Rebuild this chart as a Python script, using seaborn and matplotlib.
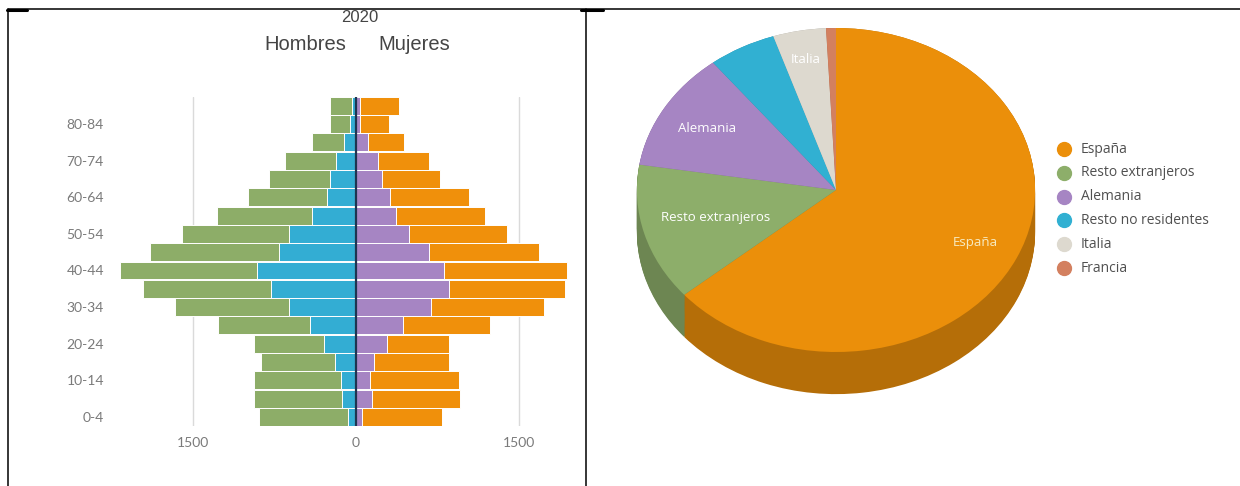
import numpy as np
import pandas as pd
import matplotlib
matplotlib.use("Agg")
import matplotlib.pyplot as plt
import seaborn as sns

# ---- Pirámide de población 2020 (grupos de edad de menor a mayor) ----
edades = ["0-4", "5-9", "10-14", "15-19", "20-24", "25-29", "30-34", "35-39",
          "40-44", "45-49", "50-54", "55-59", "60-64", "65-69", "70-74",
          "75-79", "80-84", "85+"]
hombres_total = [894, 939, 939, 869, 939, 1264, 1659, 1958, 2166, 1891,
                 1600, 1276, 988, 796, 652, 404, 236, 236]
hombres_parte = [73, 132, 138, 193, 291, 422, 612, 780, 912, 710,
                 618, 407, 269, 236, 184, 107, 55, 37]
mujeres_total = [790, 955, 942, 857, 857, 1230, 1723, 1922, 1937, 1677,
                 1386, 1184, 1040, 774, 667, 441, 306, 392]
mujeres_parte = [52, 144, 129, 162, 282, 428, 689, 857, 811, 667,
                 483, 367, 315, 239, 199, 107, 37, 37]
ticks_x = [-1500, 0, 1500]
ticks_x_txt = ["1500", "0", "1500"]

# ---- Procedencia (%) ----
paises = ["España", "Resto extranjeros", "Alemania", "Resto no residentes",
          "Italia", "Francia"]
porcentajes = [63.8, 13.7, 11.9, 5.5, 4.3, 0.8]

# colores
VERDE, AZUL, NARANJA, MORADO = "#8DAD68", "#33ADD3", "#F0900B", "#A685C3"
colores_pie = ["#EB8F0A", "#8DAE6A", "#A685C3", "#31B0D2", "#DDD9CF", "#D3805F"]
etiquetas_pie = {"España": (0.77, "#F7EBC2"), "Resto extranjeros": (0.63, "white"),
                 "Alemania": (0.75, "white"), "Italia": (0.82, "white")}

sns.set_theme(style="white")
plt.rcParams["font.family"] = ["Lato", "DejaVu Sans"]

W, H = 1240, 486
fig = plt.figure(figsize=(W / 100, H / 100), dpi=100)
fig.patch.set_facecolor("white")


def caja(x0, y0, x1, y1):
    """Rectángulo en píxeles (origen arriba-izquierda) -> fracción de figura."""
    return [x0 / W, 1 - y1 / H, (x1 - x0) / W, (y1 - y0) / H]


# ------------------------ pirámide ------------------------
ax = fig.add_axes(caja(115, 96.7, 580, 426))
df = pd.DataFrame({"edad": edades,
                   "h_tot": -np.array(hombres_total), "h_par": -np.array(hombres_parte),
                   "m_tot": np.array(mujeres_total), "m_par": np.array(mujeres_parte)})
orden = edades[::-1]
kw = dict(y="edad", order=orden, orient="h", width=0.98, edgecolor="white",
          linewidth=0.7, ax=ax, errorbar=None)
sns.barplot(data=df, x="h_tot", color=VERDE, saturation=1, **kw)
sns.barplot(data=df, x="h_par", color=AZUL, saturation=1, **kw)
sns.barplot(data=df, x="m_tot", color=NARANJA, saturation=1, **kw)
sns.barplot(data=df, x="m_par", color=MORADO, saturation=1, **kw)
ax.axvline(0, color="#1E3550", lw=1.6, zorder=5)
for xv in (-1500, 1500):
    ax.axvline(xv, color="#DADADA", lw=1.0, zorder=0)
ax.set_xlim(-2212, 2056)
ax.set_xticks(ticks_x)
ax.set_xticklabels(ticks_x_txt)
ax.set_yticks(range(len(orden)))
ax.set_yticklabels([e if edades.index(e) % 2 == 0 else "" for e in orden])
ax.tick_params(axis="both", length=0, labelsize=10, colors="#7A7A7A")
ax.tick_params(axis="y", pad=8)
ax.tick_params(axis="x", pad=8)
ax.set_xlabel("")
ax.set_ylabel("")
for s in ax.spines.values():
    s.set_visible(False)

# ------------------------ tarta 3D ------------------------
axp = fig.add_axes(caja(617, 20, 1055, 410))
prof = 0.26
oscuros = [tuple(np.array(matplotlib.colors.to_rgb(c)) * 0.77) for c in colores_pie]
for off in np.linspace(prof, 0.0, 45):
    axp.pie(porcentajes, colors=oscuros, startangle=90, counterclock=False,
            center=(0, -off), wedgeprops=dict(linewidth=0))
axp.pie(porcentajes, colors=colores_pie, startangle=90, counterclock=False,
        center=(0, 0), wedgeprops=dict(linewidth=0))
total = sum(porcentajes)
acum = 0.0
for pais, v in zip(paises, porcentajes):
    if pais in etiquetas_pie:
        r, col = etiquetas_pie[pais]
        ang = np.deg2rad(90 - 360 * (acum + v / 2) / total)
        axp.text(r * np.cos(ang), r * np.sin(ang), pais, ha="center", va="center",
                 fontsize=9.5, color=col, family=["Open Sans", "DejaVu Sans"])
    acum += v
axp.set_aspect("auto")
axp.set_xlim(-1.1, 1.1)
axp.set_ylim(-(410 - 190) / 162, (190 - 20) / 162)
axp.axis("off")

# ------------------------ capa de figura: títulos, leyenda, bordes ------------------------
ov = fig.add_axes([0, 0, 1, 1])
ov.set_xlim(0, W)
ov.set_ylim(H, 0)
ov.axis("off")
ov.patch.set_alpha(0)

tit = dict(family=["Liberation Sans", "DejaVu Sans"], color="#454545", ha="center", va="center")
ov.text(360, 18, "2020", fontsize=12, **tit)
ov.text(305, 44, "Hombres", fontsize=14.5, **tit)
ov.text(414, 44, "Mujeres", fontsize=14.5, **tit)

for i, (pais, c) in enumerate(zip(paises, colores_pie)):
    yy = 149 + i * 23.8
    ov.plot([1064], [yy], marker="o", markersize=10, color=c, linestyle="")
    ov.text(1081, yy, pais, fontsize=10, color="#505050", va="center", ha="left",
            family=["Open Sans", "DejaVu Sans"])

negro = "black"
ov.plot([8, W], [9.5, 9.5], color=negro, lw=1.1)
ov.plot([8, 8], [9, H], color=negro, lw=1.1)
ov.plot([586, 586], [9, H], color=negro, lw=1.1)
ov.plot([7, 27], [10, 10], color=negro, lw=2.2)
ov.plot([581, 603], [10, 10], color=negro, lw=2.2)

fig.savefig("out.png", dpi=100, facecolor="white")
